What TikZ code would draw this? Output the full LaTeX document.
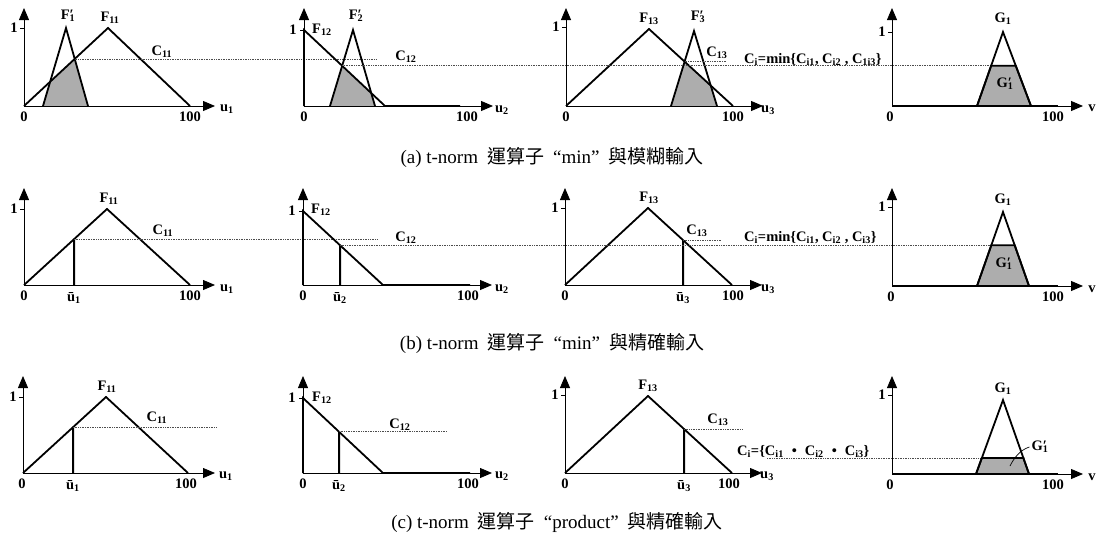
\documentclass[tikz,border=0pt]{standalone}
\usepackage{fontspec}
\setmainfont{Liberation Serif}
\newfontfamily\cjk{Noto Sans CJK TC}
\usetikzlibrary{arrows.meta,calc}
\newcommand{\lbfont}{\fontsize{14.5}{15}\selectfont\bfseries}
\newcommand{\capfont}{\fontsize{19}{21}\selectfont}
\newcommand{\sbs}[2]{#1\textsubscript{#2}}
\newcommand{\prm}[2]{#1\rlap{′}\textsubscript{#2}\hspace{1pt}}
\newcommand{\blt}{\hspace{8pt}•\hspace{8pt}}
\newcommand{\gp}{\hspace{9pt}}
\begin{document}
\begin{tikzpicture}[x=1pt,y=-1pt,
  ax/.style={line width=0.8pt,-{Triangle[length=12pt,width=10pt]}},
  mf/.style={line width=1.8pt,line join=miter},
  thk/.style={line width=2pt},
  tk/.style={line width=0.8pt},
  lvl/.style={line width=0.8pt,dash pattern=on 1pt off 0.7pt,black!70},
  shd/.style={fill=black!32},
  lb/.style={font=\lbfont,inner sep=0pt},
  captxt/.style={font=\capfont,inner sep=0pt}]
\useasboundingbox (0,0) rectangle (1096,536);
\fill[white] (0,0) rectangle (1096,536);

% ================= ROW A =================
% panel a1
\coordinate (a1o) at (24,106); \coordinate (a1p) at (108,28); \coordinate (a1e) at (190,106);
\coordinate (a1fl) at (43,106); \coordinate (a1fp) at (66,28); \coordinate (a1fr) at (88,106);
\coordinate (a1i) at (intersection of a1o--a1p and a1fl--a1fp);
\coordinate (a1j) at (intersection of a1o--a1p and a1fp--a1fr);
\coordinate (a1c) at (377,0);
\fill[shd] (a1fl) -- (a1i) -- (a1j) -- (a1fr) -- cycle;
\draw[ax] (a1o) -- (24,8);
\draw[ax] (a1o) -- (215,106);
\draw[tk] (20,28) -- (24,28);
\draw[mf] (a1o) -- (a1p) -- (a1e);
\draw[mf] (a1fl) -- (a1fp) -- (a1fr);
\draw[lvl] (a1j) -- (a1j -| a1c);
\node[lb] (a1one) at (14,28) {1};
\node[lb] (a1zero) at (24,117) {0};
\node[lb] (a1hund) at (190,117) {100};
\node[lb] (a1u) at (227,109) {\sbs{u}{1}};
\node[lb] (a1F) at (110,18) {\sbs{F}{11}};
\node[lb] (a1Fp) at (68,16) {\prm{F}{1}};
\node[lb] (a1C) at (162,52) {\sbs{C}{11}};

% panel a2
\coordinate (a2o) at (304,106); \coordinate (a2t) at (304,30); \coordinate (a2e) at (385,106);
\coordinate (a2fl) at (330,106); \coordinate (a2fp) at (353,30); \coordinate (a2fr) at (375,106);
\coordinate (a2i) at (intersection of a2t--a2e and a2fl--a2fp);
\coordinate (a2j) at (intersection of a2t--a2e and a2fp--a2fr);
\coordinate (a2ir) at ($(a2i)+(100,0)$);
\fill[shd] (a2fl) -- (a2i) -- (a2j) -- (a2fr) -- cycle;
\draw[ax] (a2o) -- (304,8);
\draw[ax] (a2o) -- (493,106);
\draw[tk] (300,30) -- (304,30);
\draw[mf] (a2o) -- (a2t) -- (a2e) -- (460,106);
\draw[mf] (a2fl) -- (a2fp) -- (a2fr);
\node[lb] (a2one) at (293,30) {1};
\node[lb] (a2zero) at (304,117) {0};
\node[lb] (a2hund) at (467,117) {100};
\node[lb] (a2u) at (502,110) {\sbs{u}{2}};
\node[lb] (a2F) at (322,30) {\sbs{F}{12}};
\node[lb] (a2Fp) at (356,16) {\prm{F}{2}};
\node[lb] (a2C) at (406,57) {\sbs{C}{12}};

% panel a3
\coordinate (a3o) at (566,106); \coordinate (a3p) at (649,29); \coordinate (a3e) at (733,106);
\coordinate (a3fl) at (671,106); \coordinate (a3fp) at (694,31); \coordinate (a3fr) at (717,106);
\coordinate (a3i) at (intersection of a3p--a3e and a3fl--a3fp);
\coordinate (a3j) at (intersection of a3p--a3e and a3fp--a3fr);
\coordinate (a3c) at (727,0);
\fill[shd] (a3fl) -- (a3i) -- (a3j) -- (a3fr) -- cycle;
\draw[ax] (a3o) -- (566,8);
\draw[ax] (a3o) -- (763,106);
\draw[tk] (562,27) -- (566,27);
\draw[mf] (a3o) -- (a3p) -- (a3e);
\draw[mf] (a3fl) -- (a3fp) -- (a3fr);
\draw[lvl] (a3i) -- (a3i -| a3c);
\node[lb] (a3one) at (556,27) {1};
\node[lb] (a3zero) at (566,117) {0};
\node[lb] (a3hund) at (733,117) {100};
\node[lb] (a3u) at (768,110) {\sbs{u}{3}};
\node[lb] (a3F) at (649,19) {\sbs{F}{13}};
\node[lb] (a3Fp) at (698,17) {\prm{F}{3}};
\node[lb] (a3C) at (717,53) {\sbs{C}{13}};

% panel a4
\coordinate (a4o) at (892,106); \coordinate (a4l) at (977,106); \coordinate (a4p) at (1003,32); \coordinate (a4r) at (1031,106);
\coordinate (a4gl) at (intersection of a4l--a4p and a2i--a2ir);
\coordinate (a4gr) at (intersection of a4r--a4p and a2i--a2ir);
\draw[ax] (a4o) -- (892,8);
\draw[ax] (a4o) -- (1083,106);
\draw[line width=1.4pt] (a4o) -- (1058,106);
\draw[tk] (888,32) -- (892,32);
\draw[lvl] (a2i) -- (a4gl);
\filldraw[shd,draw=black,line width=1.8pt] (a4l) -- (a4gl) -- (a4gr) -- (a4r) -- cycle;
\draw[mf] (a4l) -- (a4p) -- (a4r);
\node[lb] (a4one) at (882,32) {1};
\node[lb] (a4zero) at (890,117) {0};
\node[lb] (a4hund) at (1053,117) {100};
\node[lb] (a4v) at (1092,108) {v};
\node[lb] (a4G) at (1003,19) {\sbs{G}{1}};
\node[lb] (a4Gp) at (1005,84) {\prm{G}{1}};
\node[lb,anchor=base west] (aCi) at (744,63) {\sbs{C}{i}=min\{\sbs{C}{i1}, \sbs{C}{i2} , \sbs{C}{1i3}\}};

\node[captxt] (capa) at (552,157) {(a) t-norm\gp{\cjk 運算子}\gp“min”\gp{\cjk 與模糊輸入}};

% ================= ROW B =================
% panel b1
\coordinate (b1o) at (24,285); \coordinate (b1p) at (107,209); \coordinate (b1e) at (190,285);
\coordinate (b1b) at (74,285); \coordinate (b1bt) at (74,100);
\coordinate (b1i) at (intersection of b1o--b1p and b1b--b1bt);
\coordinate (b1c) at (377,0);
\draw[ax] (b1o) -- (24,188);
\draw[ax] (b1o) -- (215,285);
\draw[tk] (20,209) -- (24,209);
\draw[mf] (b1o) -- (b1p) -- (b1e);
\draw[thk] (b1b) -- (b1i);
\draw[lvl] (b1i) -- (b1i -| b1c);
\node[lb] (b1one) at (14,209) {1};
\node[lb] (b1zero) at (24,296) {0};
\node[lb] (b1ub) at (74,298) {\sbs{ū}{1}};
\node[lb] (b1hund) at (190,296) {100};
\node[lb] (b1u) at (227,289) {\sbs{u}{1}};
\node[lb] (b1F) at (109,199) {\sbs{F}{11}};
\node[lb] (b1C) at (163,231) {\sbs{C}{11}};

% panel b2
\coordinate (b2o) at (303,285); \coordinate (b2t) at (303,211); \coordinate (b2e) at (383,285);
\coordinate (b2b) at (340,285); \coordinate (b2bt) at (340,100);
\coordinate (b2i) at (intersection of b2t--b2e and b2b--b2bt);
\coordinate (b2ir) at ($(b2i)+(100,0)$);
\draw[ax] (b2o) -- (303,188);
\draw[ax] (b2o) -- (492,285);
\draw[tk] (299,211) -- (303,211);
\draw[mf] (b2o) -- (b2t) -- (b2e) -- (470,285);
\draw[thk] (b2b) -- (b2i);
\node[lb] (b2one) at (292,211) {1};
\node[lb] (b2zero) at (303,296) {0};
\node[lb] (b2ub) at (340,298) {\sbs{ū}{2}};
\node[lb] (b2hund) at (468,296) {100};
\node[lb] (b2u) at (502,289) {\sbs{u}{2}};
\node[lb] (b2F) at (321,210) {\sbs{F}{12}};
\node[lb] (b2C) at (406,238) {\sbs{C}{12}};

% panel b3
\coordinate (b3o) at (565,285); \coordinate (b3p) at (648,208); \coordinate (b3e) at (732,285);
\coordinate (b3b) at (683,285); \coordinate (b3bt) at (683,100);
\coordinate (b3i) at (intersection of b3p--b3e and b3b--b3bt);
\coordinate (b3c) at (722,0);
\draw[ax] (b3o) -- (565,188);
\draw[ax] (b3o) -- (762,285);
\draw[tk] (561,208) -- (565,208);
\draw[mf] (b3o) -- (b3p) -- (b3e);
\draw[thk] (b3b) -- (b3i);
\draw[lvl] (b3i) -- (b3i -| b3c);
\node[lb] (b3one) at (555,208) {1};
\node[lb] (b3zero) at (565,296) {0};
\node[lb] (b3ub) at (683,298) {\sbs{ū}{3}};
\node[lb] (b3hund) at (733,296) {100};
\node[lb] (b3u) at (768,289) {\sbs{u}{3}};
\node[lb] (b3F) at (649,198) {\sbs{F}{13}};
\node[lb] (b3C) at (697,231) {\sbs{C}{13}};

% panel b4
\coordinate (b4o) at (892,286); \coordinate (b4l) at (977,286); \coordinate (b4p) at (1003,212); \coordinate (b4r) at (1029,286);
\coordinate (b4gl) at (intersection of b4l--b4p and b2i--b2ir);
\coordinate (b4gr) at (intersection of b4r--b4p and b2i--b2ir);
\draw[ax] (b4o) -- (892,188);
\draw[ax] (b4o) -- (1083,286);
\draw[line width=1.4pt] (b4o) -- (1058,286);
\draw[tk] (888,207) -- (892,207);
\draw[lvl] (b2i) -- (b4gl);
\filldraw[shd,draw=black,line width=1.8pt] (b4l) -- (b4gl) -- (b4gr) -- (b4r) -- cycle;
\draw[mf] (b4l) -- (b4p) -- (b4r);
\node[lb] (b4one) at (882,207) {1};
\node[lb] (b4zero) at (891,297) {0};
\node[lb] (b4hund) at (1053,297) {100};
\node[lb] (b4v) at (1092,289) {v};
\node[lb] (b4G) at (1003,200) {\sbs{G}{1}};
\node[lb] (b4Gp) at (1004,264) {\prm{G}{1}};
\node[lb,anchor=base west] (bCi) at (744,241) {\sbs{C}{i}=min\{\sbs{C}{i1}, \sbs{C}{i2} , \sbs{C}{i3}\}};

\node[captxt] (capb) at (552,343) {(b) t-norm\gp{\cjk 運算子}\gp“min”\gp{\cjk 與精確輸入}};

% ================= ROW C =================
% panel c1
\coordinate (c1o) at (23,473); \coordinate (c1p) at (106,397); \coordinate (c1e) at (188,473);
\coordinate (c1b) at (73,473); \coordinate (c1bt) at (73,300);
\coordinate (c1i) at (intersection of c1o--c1p and c1b--c1bt);
\coordinate (c1c) at (217,0);
\draw[ax] (c1o) -- (23,376);
\draw[ax] (c1o) -- (215,473);
\draw[tk] (19,397) -- (23,397);
\draw[mf] (c1o) -- (c1p) -- (c1e);
\draw[thk] (c1b) -- (c1i);
\draw[lvl] (c1i) -- (c1i -| c1c);
\node[lb] (c1one) at (13,397) {1};
\node[lb] (c1zero) at (22,484) {0};
\node[lb] (c1ub) at (73,486) {\sbs{ū}{1}};
\node[lb] (c1hund) at (186,484) {100};
\node[lb] (c1u) at (226,476) {\sbs{u}{1}};
\node[lb] (c1F) at (107,387) {\sbs{F}{11}};
\node[lb] (c1C) at (157,418) {\sbs{C}{11}};

% panel c2
\coordinate (c2o) at (303,473); \coordinate (c2t) at (303,398); \coordinate (c2e) at (383,473);
\coordinate (c2b) at (339,473); \coordinate (c2bt) at (339,300);
\coordinate (c2i) at (intersection of c2t--c2e and c2b--c2bt);
\coordinate (c2c) at (447,0);
\draw[ax] (c2o) -- (303,376);
\draw[ax] (c2o) -- (492,473);
\draw[tk] (299,398) -- (303,398);
\draw[mf] (c2o) -- (c2t) -- (c2e) -- (470,473);
\draw[thk] (c2b) -- (c2i);
\draw[lvl] (c2i) -- (c2i -| c2c);
\node[lb] (c2one) at (292,398) {1};
\node[lb] (c2zero) at (303,484) {0};
\node[lb] (c2ub) at (339,486) {\sbs{ū}{2}};
\node[lb] (c2hund) at (468,484) {100};
\node[lb] (c2u) at (502,476) {\sbs{u}{2}};
\node[lb] (c2F) at (322,398) {\sbs{F}{12}};
\node[lb] (c2C) at (400,425) {\sbs{C}{12}};

% panel c3
\coordinate (c3o) at (565,473); \coordinate (c3p) at (648,396); \coordinate (c3e) at (732,473);
\coordinate (c3b) at (684,473); \coordinate (c3bt) at (684,300);
\coordinate (c3i) at (intersection of c3p--c3e and c3b--c3bt);
\coordinate (c3c) at (742,0);
\draw[ax] (c3o) -- (565,376);
\draw[ax] (c3o) -- (762,473);
\draw[tk] (561,395) -- (565,395);
\draw[mf] (c3o) -- (c3p) -- (c3e);
\draw[thk] (c3b) -- (c3i);
\draw[lvl] (c3i) -- (c3i -| c3c);
\node[lb] (c3one) at (555,395) {1};
\node[lb] (c3zero) at (565,484) {0};
\node[lb] (c3ub) at (684,486) {\sbs{ū}{3}};
\node[lb] (c3hund) at (729,484) {100};
\node[lb] (c3u) at (767,476) {\sbs{u}{3}};
\node[lb] (c3F) at (648,386) {\sbs{F}{13}};
\node[lb] (c3C) at (718,420) {\sbs{C}{13}};

% panel c4
\coordinate (c4o) at (892,474); \coordinate (c4l) at (976,474); \coordinate (c4p) at (1003,400); \coordinate (c4r) at (1029,474);
\coordinate (c4h) at (767,458); \coordinate (c4hr) at (877,458);
\coordinate (c4gl) at (intersection of c4l--c4p and c4h--c4hr);
\coordinate (c4gr) at (intersection of c4r--c4p and c4h--c4hr);
\draw[ax] (c4o) -- (892,376);
\draw[ax] (c4o) -- (1083,474);
\draw[line width=1.4pt] (c4o) -- (1058,474);
\draw[tk] (888,395) -- (892,395);
\draw[lvl] (c4h) -- (c4gl);
\filldraw[shd,draw=black,line width=1.8pt] (c4l) -- (c4gl) -- (c4gr) -- (c4r) -- cycle;
\draw[mf] (c4l) -- (c4p) -- (c4r);
\node[lb] (c4one) at (882,395) {1};
\node[lb] (c4zero) at (890,485) {0};
\node[lb] (c4hund) at (1053,485) {100};
\node[lb] (c4v) at (1092,477) {v};
\node[lb] (c4G) at (1003,389) {\sbs{G}{1}};
\node[lb] (c4Gp) at (1040,447) {\prm{G}{1}};
\coordinate (c4gpt) at (1010,466);
\draw[line width=0.7pt] ([xshift=-2pt]c4Gp.west) .. controls (1020,450) and (1014,458) .. (c4gpt);
\node[lb,anchor=base west] (cCi) at (737,455) {\sbs{C}{i}=\{\sbs{C}{i1}\blt\sbs{C}{i2}\blt\sbs{C}{i3}\}};

\node[captxt] (capc) at (557,522) {(c) t-norm\gp{\cjk 運算子}\gp“product”\gp{\cjk 與精確輸入}};
\end{tikzpicture}
\end{document}
